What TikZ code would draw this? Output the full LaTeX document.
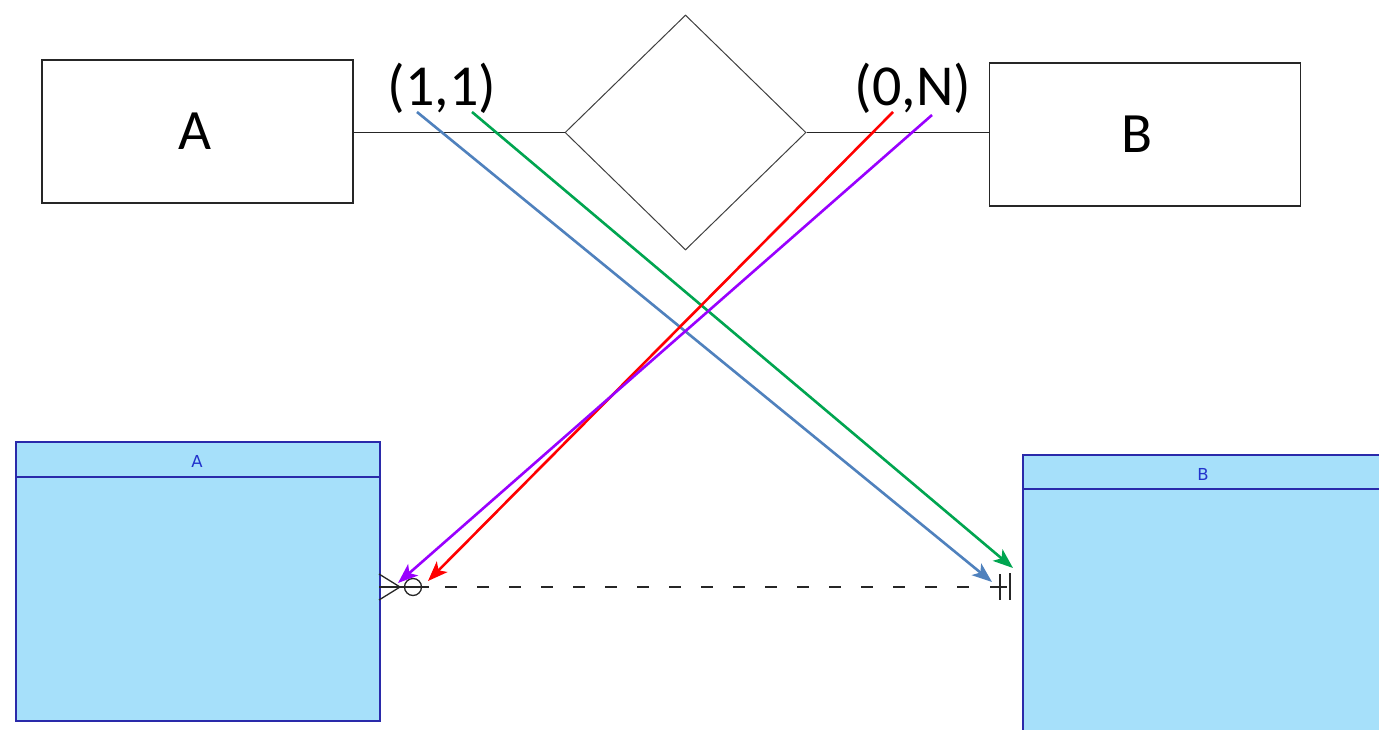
\documentclass[tikz,border=0pt]{standalone}
\usepackage{fontspec}
\setmainfont{Carlito}
\newfontfamily\tblfont{DejaVu Sans}
\usetikzlibrary{arrows.meta,shapes.geometric}
\definecolor{tblfill}{HTML}{A6E0FA}
\definecolor{tbldraw}{HTML}{2A2AAA}
\definecolor{tbltext}{HTML}{2233CC}
\definecolor{cblue}{HTML}{4F81BD}
\definecolor{cgreen}{HTML}{00A550}
\definecolor{cred}{HTML}{FF0000}
\definecolor{cpurple}{HTML}{9900FF}
\tikzset{
  entity/.style={draw=black!85, line width=1.5pt, fill=white, minimum width=311pt, minimum height=143pt, inner sep=0pt, font=\fontsize{57}{66}\selectfont},
  rel/.style={draw=black!75, line width=1pt, diamond, minimum width=241pt, minimum height=235pt, inner sep=0pt},
  card/.style={inner sep=0pt, font=\fontsize{58}{66}\selectfont},
  tbl/.style={draw=tbldraw, line width=1.8pt, fill=tblfill, anchor=north west, inner sep=0pt},
  tbltitle/.style={inner sep=0pt, text=tbltext, font=\tblfont\fontsize{16.5}{19}\selectfont},
  link/.style={draw=black!85, line width=1.4pt},
  notation/.style={draw=black!85, line width=1.3pt},
  arr/.style={line width=2.6pt, -{Stealth[length=20pt,width=15pt,inset=5pt]}},
}
\begin{document}
\begin{tikzpicture}[x=1pt,y=-1pt]
\useasboundingbox (0,0) rectangle (1379,730);
\clip (0,0) rectangle (1379,730);
\fill[white] (0,0) rectangle (1379,730);
% ER diagram
\node[entity] (A) at (197.5,131.5) {\hspace*{-6pt}A};
\node[entity] (B) at (1145,134.5) {\hspace*{-16pt}B};
\node[rel] (R) at (685.5,132.5) {};
\draw[link] (A.east |- R.west) -- (R.west);
\draw[link] (R.east) -- (R.east -| B.west);
\node[card] (c11) at (442,88) {(1,1)};
\node[card] (c0N) at (913,88) {(0,N)};
% tables
\node[tbl, minimum width=364pt, minimum height=279pt] (TA) at (15,441) {};
\draw[tbldraw, line width=1.8pt] ([yshift=-36pt]TA.north west) -- ([yshift=-36pt]TA.north east);
\node[tbltitle] (TAt) at (197,461.5) {A};
\node[tbl, minimum width=380pt, minimum height=300pt] (TB) at (1022,454) {};
\draw[tbldraw, line width=1.8pt] ([yshift=-35pt]TB.north west) -- ([yshift=-35pt]TB.north east);
\node[tbltitle] (TBt) at (1203,474) {B};
% relationship line
\coordinate (ra) at (379,587);
\coordinate (rb) at (1022,587);
\draw[notation] (ra) ++(0,-13) -- ++(21,13) -- ++(-21,13);
\draw[notation] (ra) -- ++(50,0);
\draw[notation] (413,587) circle (8.5);
\draw[notation, dash pattern=on 12pt off 20pt] (445,587) -- (975,587);
\draw[notation] (rb) ++(-32,0) -- ++(17,0);
\draw[notation] (1000,574) -- (1000,600);
\draw[notation, line width=1.5pt] (1010,573) -- (1010,600);
% mapping arrows
\coordinate (s1) at (417,112);
\coordinate (e1) at (992,582);
\coordinate (s2) at (472,112);
\coordinate (e2) at (1013,568);
\coordinate (s3) at (893,112);
\coordinate (e3) at (428,581);
\coordinate (s4) at (932,115);
\coordinate (e4) at (398,583);
\draw[arr, cblue] (s1) -- (e1);
\draw[arr, cgreen] (s2) -- (e2);
\draw[arr, cred] (s3) -- (e3);
\draw[arr, cpurple] (s4) -- (e4);
\end{tikzpicture}
\end{document}
